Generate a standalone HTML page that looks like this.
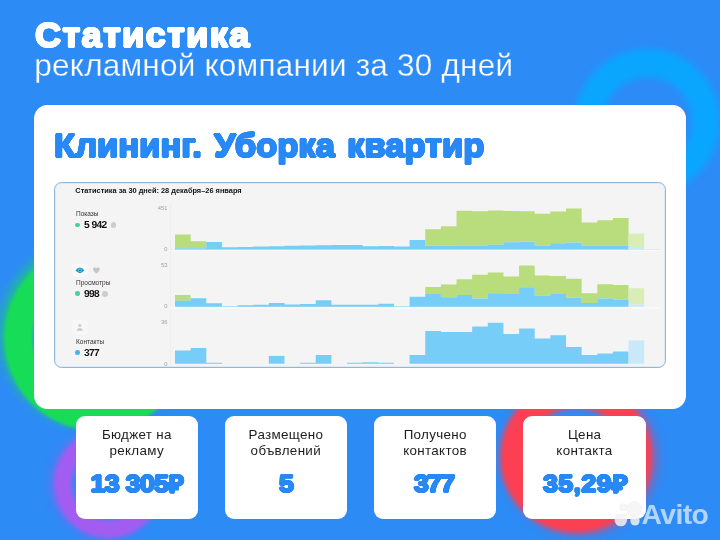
<!DOCTYPE html>
<html lang="ru"><head><meta charset="utf-8"><title>Статистика</title>
<style>
html,body{margin:0;padding:0}
body{width:720px;height:540px;overflow:hidden;position:relative;background:#2d8bf6;font-family:"Liberation Sans",sans-serif}
.abs{position:absolute}
.ring{position:absolute;border-radius:50%;box-sizing:border-box;filter:blur(2.5px)}
.h1{position:absolute;left:35.2px;top:14.8px;font-size:34.5px;font-weight:bold;color:#fff;letter-spacing:1.25px;line-height:40px;text-shadow:0.90px 0.00px 0 #fff,0.78px 0.45px 0 #fff,0.45px 0.78px 0 #fff,0.00px 0.90px 0 #fff,-0.45px 0.78px 0 #fff,-0.78px 0.45px 0 #fff,-0.90px 0.00px 0 #fff,-0.78px -0.45px 0 #fff,-0.45px -0.78px 0 #fff,-0.00px -0.90px 0 #fff,0.45px -0.78px 0 #fff,0.78px -0.45px 0 #fff;white-space:nowrap;transform-origin:0 0;transform:scaleX(1.05)}
.h2{position:absolute;left:34.3px;top:47.5px;font-size:31.5px;color:#fff;line-height:34px;white-space:nowrap;letter-spacing:0.22px;-webkit-text-stroke:0.28px #2d8bf6}
.card{position:absolute;left:34.3px;top:104.8px;width:651.5px;height:303.9px;background:#fff;border-radius:13.5px}
.ttl{position:absolute;left:54.2px;top:125.8px;font-size:33px;font-weight:bold;color:#2888f5;line-height:40px;white-space:nowrap;text-shadow:0.90px 0.00px 0 #2888f5,0.78px 0.45px 0 #2888f5,0.45px 0.78px 0 #2888f5,0.00px 0.90px 0 #2888f5,-0.45px 0.78px 0 #2888f5,-0.78px 0.45px 0 #2888f5,-0.90px 0.00px 0 #2888f5,-0.78px -0.45px 0 #2888f5,-0.45px -0.78px 0 #2888f5,-0.00px -0.90px 0 #2888f5,0.45px -0.78px 0 #2888f5,0.78px -0.45px 0 #2888f5;letter-spacing:-0.05px;word-spacing:2.6px;transform-origin:0 0;transform:scaleX(1.05)}
.panel{position:absolute;left:54px;top:182px;width:611.8px;height:185.6px;box-sizing:border-box;border:1px solid #90b7d6;border-radius:7.5px;background:#f4f4f4;box-shadow:inset 0 0 0 1px rgba(200,228,248,0.55)}
.ph{position:absolute;left:75.3px;top:184.5px;font-size:7.4px;font-weight:bold;color:#111;line-height:12px;white-space:nowrap}
.lbl{position:absolute;left:76px;font-size:6.5px;color:#383434;margin-top:0.5px;line-height:8px;white-space:nowrap}
.num{position:absolute;left:83.5px;margin-top:0.1px;font-size:10.2px;letter-spacing:-0.62px;font-weight:bold;color:#111;line-height:11px;white-space:nowrap;transform-origin:0 78%;transform:rotate(0.03deg)}
.dot{position:absolute;width:4.6px;height:4.6px;border-radius:50%;margin:-0.4px 0 0 -0.8px}
.info{position:absolute;width:5.6px;height:5.6px;border-radius:50%;background:#cdcdcd;margin:0.1px 0 0 -0.3px}
.ax{position:absolute;font-size:5.8px;color:#9e9e9e;margin-top:0.3px;line-height:7px;text-align:right;width:20px;left:147.5px;white-space:nowrap}
.st{position:absolute;top:416px;width:122.2px;height:103.3px;background:#fff;border-radius:9px;text-align:center}
.st .t{position:absolute;left:0;right:0;top:11.1px;font-size:13.4px;line-height:16px;color:#1d1d1d;letter-spacing:0.32px;text-indent:0.3px}
.st .v{position:absolute;left:0;right:0;top:53.3px;font-size:23.3px;line-height:30px;font-weight:bold;color:#2888f5;text-shadow:0.85px 0.00px 0 #2888f5,0.74px 0.42px 0 #2888f5,0.43px 0.74px 0 #2888f5,0.00px 0.85px 0 #2888f5,-0.42px 0.74px 0 #2888f5,-0.74px 0.42px 0 #2888f5,-0.85px 0.00px 0 #2888f5,-0.74px -0.42px 0 #2888f5,-0.43px -0.74px 0 #2888f5,-0.00px -0.85px 0 #2888f5,0.43px -0.74px 0 #2888f5,0.74px -0.43px 0 #2888f5;white-space:nowrap;transform:scaleX(1.16);letter-spacing:-0.7px}
</style></head><body>
<!-- background decorative rings -->
<div class="ring" style="left:574.5px;top:48.5px;width:145px;height:145px;border:28px solid #0aa6fe;filter:blur(3.5px)"></div>
<div class="ring" style="left:3.5px;top:243.5px;width:187px;height:187px;border:29.5px solid #17dc58;filter:blur(1.8px);box-shadow:-5px -4px 10px rgba(23,215,100,0.6)"></div>
<div class="ring" style="left:53.5px;top:428.5px;width:109px;height:109px;border:18px solid #a35cf0;filter:blur(2px);box-shadow:-3px 0 8px rgba(150,95,240,0.55)"></div>
<div class="ring" style="left:500px;top:381.3px;width:152px;height:152px;border:27.5px solid #fc3f52;filter:blur(2.5px);box-shadow:5px 1px 9px rgba(235,60,110,0.55)"></div>

<div class="h1">Статистика</div>
<div class="h2">рекламной компании за 30 дней</div>

<div class="card"></div>
<div class="ttl">Клининг. Уборка квартир</div>

<div class="panel"></div>
<div class="ph">Статистика за 30 дней: 28 декабря–26 января</div>

<svg class="abs" style="left:0;top:0" width="720" height="540" viewBox="0 0 720 540">
<g shape-rendering="crispEdges">
<rect x="169.5" y="203" width="1" height="163" fill="#eeeeee"/>
<rect x="170" y="249.4" width="490" height="0.8" fill="#e9eaec"/><rect x="170" y="250.2" width="490" height="1.2" fill="#f9f9fa"/>
<rect x="170" y="306.5" width="490" height="0.8" fill="#e9eaec"/><rect x="170" y="307.3" width="490" height="1.2" fill="#f9f9fa"/>
</g>
<path d="M175.00 234.50L190.64 234.50L190.64 241.20L206.28 241.20L206.28 248.20L190.64 248.20L190.64 248.20L175.00 248.20Z" fill="#b9dc7d"/>
<path d="M425.24 229.30L440.88 229.30L440.88 226.30L456.52 226.30L456.52 210.80L472.16 210.80L472.16 211.20L487.80 211.20L487.80 210.60L503.44 210.60L503.44 210.90L519.08 210.90L519.08 211.20L534.72 211.20L534.72 213.80L550.36 213.80L550.36 211.60L566.00 211.60L566.00 208.40L581.64 208.40L581.64 222.40L597.28 222.40L597.28 220.30L612.92 220.30L612.92 218.10L628.56 218.10L628.56 245.60L612.92 245.60L612.92 245.60L597.28 245.60L597.28 245.60L581.64 245.60L581.64 242.60L566.00 242.60L566.00 243.20L550.36 243.20L550.36 245.60L534.72 245.60L534.72 241.80L519.08 241.80L519.08 242.20L503.44 242.20L503.44 244.80L487.80 244.80L487.80 245.60L472.16 245.60L472.16 245.60L456.52 245.60L456.52 245.80L440.88 245.80L440.88 245.80L425.24 245.80Z" fill="#b9dc7d"/>
<rect x="628.56" y="233.60" width="15.64" height="13.40" fill="#d9edb6"/>
<path d="M175.00 248.20L190.64 248.20L190.64 248.20L206.28 248.20L206.28 242.00L221.92 242.00L221.92 247.20L237.56 247.20L237.56 246.90L253.20 246.90L253.20 246.60L268.84 246.60L268.84 246.20L284.48 246.20L284.48 245.80L300.12 245.80L300.12 245.50L315.76 245.50L315.76 245.30L331.40 245.30L331.40 245.10L347.04 245.10L347.04 245.10L362.68 245.10L362.68 246.20L378.32 246.20L378.32 246.00L393.96 246.00L393.96 246.40L409.60 246.40L409.60 240.10L425.24 240.10L425.24 245.80L440.88 245.80L440.88 245.80L456.52 245.80L456.52 245.60L472.16 245.60L472.16 245.60L487.80 245.60L487.80 244.80L503.44 244.80L503.44 242.20L519.08 242.20L519.08 241.80L534.72 241.80L534.72 245.60L550.36 245.60L550.36 243.20L566.00 243.20L566.00 242.60L581.64 242.60L581.64 245.60L597.28 245.60L597.28 245.60L612.92 245.60L612.92 245.60L628.56 245.60L628.56 249.60L612.92 249.60L612.92 249.60L597.28 249.60L597.28 249.60L581.64 249.60L581.64 249.60L566.00 249.60L566.00 249.60L550.36 249.60L550.36 249.60L534.72 249.60L534.72 249.60L519.08 249.60L519.08 249.60L503.44 249.60L503.44 249.60L487.80 249.60L487.80 249.60L472.16 249.60L472.16 249.60L456.52 249.60L456.52 249.60L440.88 249.60L440.88 249.60L425.24 249.60L425.24 249.60L409.60 249.60L409.60 249.60L393.96 249.60L393.96 249.60L378.32 249.60L378.32 249.60L362.68 249.60L362.68 249.60L347.04 249.60L347.04 249.60L331.40 249.60L331.40 249.60L315.76 249.60L315.76 249.60L300.12 249.60L300.12 249.60L284.48 249.60L284.48 249.60L268.84 249.60L268.84 249.60L253.20 249.60L253.20 249.60L237.56 249.60L237.56 249.60L221.92 249.60L221.92 249.60L206.28 249.60L206.28 249.60L190.64 249.60L190.64 249.60L175.00 249.60Z" fill="#76cdf8"/>
<rect x="628.56" y="247.00" width="15.64" height="2.60" fill="#c9e9fb"/>
<path d="M175.00 295.00L190.64 295.00L190.64 300.80L175.00 300.80Z" fill="#b9dc7d"/>
<path d="M425.24 286.90L440.88 286.90L440.88 284.50L456.52 284.50L456.52 279.30L472.16 279.30L472.16 274.80L487.80 274.80L487.80 272.40L503.44 272.40L503.44 276.60L519.08 276.60L519.08 265.60L534.72 265.60L534.72 275.50L550.36 275.50L550.36 276.00L566.00 276.00L566.00 278.80L581.64 278.80L581.64 293.20L597.28 293.20L597.28 284.20L612.92 284.20L612.92 285.00L628.56 285.00L628.56 299.50L612.92 299.50L612.92 298.60L597.28 298.60L597.28 303.10L581.64 303.10L581.64 297.70L566.00 297.70L566.00 294.10L550.36 294.10L550.36 295.40L534.72 295.40L534.72 287.30L519.08 287.30L519.08 294.10L503.44 294.10L503.44 293.20L487.80 293.20L487.80 298.60L472.16 298.60L472.16 295.00L456.52 295.00L456.52 297.30L440.88 297.30L440.88 294.10L425.24 294.10Z" fill="#b9dc7d"/>
<rect x="628.56" y="288.30" width="15.64" height="16.30" fill="#d9edb6"/>
<path d="M175.00 300.80L190.64 300.80L190.64 298.30L206.28 298.30L206.28 303.30L221.92 303.30L221.92 306.30L237.56 306.30L237.56 305.30L253.20 305.30L253.20 304.80L268.84 304.80L268.84 303.00L284.48 303.00L284.48 304.50L300.12 304.50L300.12 304.00L315.76 304.00L315.76 300.30L331.40 300.30L331.40 304.80L347.04 304.80L347.04 304.80L362.68 304.80L362.68 304.80L378.32 304.80L378.32 303.80L393.96 303.80L393.96 306.30L409.60 306.30L409.60 296.80L425.24 296.80L425.24 294.10L440.88 294.10L440.88 297.30L456.52 297.30L456.52 295.00L472.16 295.00L472.16 298.60L487.80 298.60L487.80 293.20L503.44 293.20L503.44 294.10L519.08 294.10L519.08 287.30L534.72 287.30L534.72 295.40L550.36 295.40L550.36 294.10L566.00 294.10L566.00 297.70L581.64 297.70L581.64 303.10L597.28 303.10L597.28 298.60L612.92 298.60L612.92 299.50L628.56 299.50L628.56 306.70L612.92 306.70L612.92 306.70L597.28 306.70L597.28 306.70L581.64 306.70L581.64 306.70L566.00 306.70L566.00 306.70L550.36 306.70L550.36 306.70L534.72 306.70L534.72 306.70L519.08 306.70L519.08 306.70L503.44 306.70L503.44 306.70L487.80 306.70L487.80 306.70L472.16 306.70L472.16 306.70L456.52 306.70L456.52 306.70L440.88 306.70L440.88 306.70L425.24 306.70L425.24 306.70L409.60 306.70L409.60 306.70L393.96 306.70L393.96 306.70L378.32 306.70L378.32 306.70L362.68 306.70L362.68 306.70L347.04 306.70L347.04 306.70L331.40 306.70L331.40 306.70L315.76 306.70L315.76 306.70L300.12 306.70L300.12 306.70L284.48 306.70L284.48 306.70L268.84 306.70L268.84 306.70L253.20 306.70L253.20 306.70L237.56 306.70L237.56 306.70L221.92 306.70L221.92 306.70L206.28 306.70L206.28 306.70L190.64 306.70L190.64 306.70L175.00 306.70Z" fill="#76cdf8"/>
<rect x="628.56" y="304.60" width="15.64" height="2.10" fill="#c9e9fb"/>
<path d="M175.00 350.50L190.64 350.50L190.64 348.10L206.28 348.10L206.28 362.80L221.92 362.80L221.92 363.70L206.28 363.70L206.28 363.70L190.64 363.70L190.64 363.70L175.00 363.70Z" fill="#76cdf8"/>
<path d="M268.84 355.90L284.48 355.90L284.48 363.70L268.84 363.70Z" fill="#76cdf8"/>
<path d="M300.12 362.80L315.76 362.80L315.76 355.00L331.40 355.00L331.40 363.70L315.76 363.70L315.76 363.70L300.12 363.70Z" fill="#76cdf8"/>
<path d="M347.04 362.80L362.68 362.80L362.68 362.30L378.32 362.30L378.32 362.80L393.96 362.80L393.96 363.70L378.32 363.70L378.32 363.70L362.68 363.70L362.68 363.70L347.04 363.70Z" fill="#76cdf8"/>
<path d="M409.60 355.10L425.24 355.10L425.24 330.90L440.88 330.90L440.88 332.10L456.52 332.10L456.52 332.10L472.16 332.10L472.16 326.40L487.80 326.40L487.80 322.80L503.44 322.80L503.44 334.00L519.08 334.00L519.08 328.50L534.72 328.50L534.72 338.50L550.36 338.50L550.36 335.20L566.00 335.20L566.00 347.00L581.64 347.00L581.64 355.10L597.28 355.10L597.28 353.40L612.92 353.40L612.92 351.60L628.56 351.60L628.56 363.70L612.92 363.70L612.92 363.70L597.28 363.70L597.28 363.70L581.64 363.70L581.64 363.70L566.00 363.70L566.00 363.70L550.36 363.70L550.36 363.70L534.72 363.70L534.72 363.70L519.08 363.70L519.08 363.70L503.44 363.70L503.44 363.70L487.80 363.70L487.80 363.70L472.16 363.70L472.16 363.70L456.52 363.70L456.52 363.70L440.88 363.70L440.88 363.70L425.24 363.70L425.24 363.70L409.60 363.70Z" fill="#76cdf8"/>
<rect x="628.56" y="340.30" width="15.64" height="23.40" fill="#c9e9fb"/>
<!-- eye icon -->
<rect x="72.4" y="264" width="15.2" height="12.6" rx="2.5" fill="#f9f9fa"/>
<g transform="translate(79.9,270.3)">
<path d="M-4.3 0 Q0 -5.8 4.3 0 Q0 5.8 -4.3 0Z" fill="#1c8dbd"/>
<circle r="1.95" fill="#3fd6ff"/><circle r="0.85" fill="#0f5f88"/>
</g>
<!-- heart icon -->
<path transform="translate(96.4,270.6) scale(0.37,0.31)" d="M0 9 C-14 -2 -9 -10 -4.5 -10 C-2 -10 -0.5 -8.5 0 -7 C0.5 -8.5 2 -10 4.5 -10 C9 -10 14 -2 0 9Z" fill="#c6c6c6"/>
<!-- person icon -->
<rect x="72.4" y="320.2" width="15.2" height="14.2" rx="2.5" fill="#f7f7f7"/>
<g transform="translate(79.8,327.6)" fill="#d0d0d0">
<circle cx="0" cy="-2.2" r="1.65"/>
<path d="M-2.9 3.3 Q-2.9 0.5 0 0.5 Q2.9 0.5 2.9 3.3Z"/>
</g>
</svg>

<div class="lbl" style="top:209.3px">Показы</div>
<div class="dot" style="left:75.8px;top:222.9px;background:#3fd39a"></div>
<div class="num" style="top:219.3px;word-spacing:0.2px">5 942</div>
<div class="info" style="left:110.8px;top:222.4px"></div>

<div class="lbl" style="top:278.7px">Просмотры</div>
<div class="dot" style="left:75.8px;top:291.8px;background:#3fd39a"></div>
<div class="num" style="top:288.2px">998</div>
<div class="info" style="left:102.6px;top:291.3px"></div>

<div class="lbl" style="top:337.6px">Контакты</div>
<div class="dot" style="left:75.8px;top:350.7px;background:#45b3f0"></div>
<div class="num" style="top:347.2px">377</div>

<div class="ax" style="top:204.7px">451</div>
<div class="ax" style="top:245.8px">0</div>
<div class="ax" style="top:262px">53</div>
<div class="ax" style="top:303.2px">0</div>
<div class="ax" style="top:318.7px">36</div>
<div class="ax" style="top:360.3px">0</div>

<div class="st" style="left:75.6px"><div class="t">Бюджет на<br>рекламу</div><div class="v">13 305₽</div></div>
<div class="st" style="left:224.7px"><div class="t">Размещено<br>объвлений</div><div class="v">5</div></div>
<div class="st" style="left:374px"><div class="t">Получено<br>контактов</div><div class="v" style="letter-spacing:-1.6px;left:-3px">377</div></div>
<div class="st" style="left:523.4px"><div class="t">Цена<br>контакта</div><div class="v" style="letter-spacing:0.2px;left:3px">35,29₽</div></div>
<svg class="abs" style="left:0;top:0" width="720" height="540" viewBox="0 0 720 540">
<!-- avito logo -->
<g fill="#fff" fill-opacity="0.8" style="filter:drop-shadow(0 0 0.7px rgba(0,0,40,0.22))">
<circle cx="623.3" cy="507.3" r="3.6"/>
<circle cx="634.3" cy="509.2" r="7.6"/>
<circle cx="620.8" cy="520" r="6.3"/>
<circle cx="635" cy="520.9" r="4.7"/>
</g>
<text x="641.4" y="523.7" font-family="Liberation Sans, sans-serif" font-weight="bold" font-size="28.3" fill="#fff" fill-opacity="0.64" letter-spacing="-0.55">Avito</text>
</svg>
</body></html>
